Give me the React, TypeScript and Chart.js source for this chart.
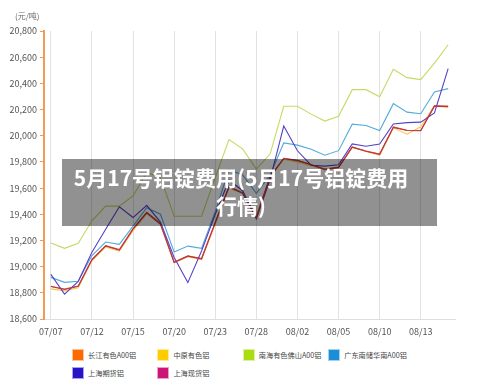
import React, { useEffect, useRef } from "react";
import { Chart, registerables } from "chart.js";

Chart.register(...registerables);

// Trading dates (every third one is labelled on the axis)
const dates = [
  "07/07", "07/08", "07/11", "07/12", "07/13", "07/14", "07/15", "07/18", "07/19", "07/20",
  "07/21", "07/22", "07/23", "07/25", "07/27", "07/28", "07/29", "08/01", "08/02", "08/03",
  "08/04", "08/05", "08/08", "08/09", "08/10", "08/11", "08/12", "08/13", "08/15", "08/16",
];

const seriesNames = [
  "长江有色A00铝",
  "中原有色铝",
  "南海有色佛山A00铝",
  "广东南储华南A00铝",
  "上海期货铝",
  "上海现货铝",
];

// Prices in 元/吨
const changjiang = [
  18850, 18829, 18852, 19056, 19160, 19130, 19290, 19415, 19330, 19035,
  19082, 19062, 19340, 19612, 19565, 19385, 19690, 19826, 19810, 19780,
  19745, 19760, 19915, 19884, 19860, 20067, 20042, 20040, 20228, 20225,
];
const zhongyuan = [
  18830, 18815, 18838, 19045, 19150, 19118, 19275, 19405, 19322, 19030,
  19075, 19052, 19325, 19600, 19560, 19390, 19680, 19820, 19800, 19770,
  19740, 19755, 19910, 19880, 19850, 20060, 20012, 20068, 20230, 20215,
];
const nanhai = [
  19180, 19140, 19178, 19350, 19462, 19462, 19540, 19720, 19680, 19385,
  19385, 19385, 19680, 19970, 19900, 19745, 19860, 20225, 20225, 20165,
  20112, 20149, 20352, 20352, 20298, 20507, 20444, 20429, 20555, 20695,
];
const guangdong = [
  18918, 18880, 18888, 19085, 19188, 19170, 19310, 19450, 19400, 19112,
  19157, 19140, 19420, 19740, 19700, 19560, 19700, 19945, 19928, 19896,
  19851, 19886, 20088, 20078, 20040, 20245, 20180, 20168, 20334, 20360,
];
const shfeFutures = [
  18941, 18790, 18888, 19110, 19285, 19457, 19375, 19468, 19340, 19070,
  18878, 19120, 19400, 19660, 19580, 19369, 19665, 20074, 19885, 19775,
  19768, 19778, 19938, 19920, 19936, 20090, 20100, 20104, 20174, 20512,
];
const shSpot = [
  18848, 18825, 18850, 19052, 19158, 19126, 19286, 19412, 19326, 19032,
  19080, 19060, 19335, 19608, 19560, 19365, 19685, 19828, 19812, 19778,
  19742, 19758, 19912, 19882, 19858, 20064, 20040, 20038, 20226, 20224,
];

const yTicksMin = 18600;
const yTicksMax = 20800;
const yStep = 200;

const lineColors = ["#e9582c", "#f6c84a", "#c4da62", "#52abdf", "#5542c6", "#b73452"];
const legendColors = ["#ff6a00", "#ffcc00", "#aadd11", "#1a8fd6", "#2a12c8", "#cc1577"];
// drawing order: lower value is drawn on top
const drawOrder = [2, 3, 5, 4, 1, 0];

const FONT = '"Noto Sans CJK SC", "Noto Sans", sans-serif';

export default function App() {
  const canvasRef = useRef<HTMLCanvasElement | null>(null);

  useEffect(() => {
    const canvas = canvasRef.current;
    if (!canvas) return;
    const values = [changjiang, zhongyuan, nanhai, guangdong, shfeFutures, shSpot];
    const chart = new Chart(canvas, {
      type: "line",
      data: {
        labels: dates,
        datasets: values.map((data, i) => ({
          label: seriesNames[i],
          data,
          order: drawOrder[i],
          borderColor: lineColors[i],
          backgroundColor: lineColors[i],
          borderWidth: 1.1,
          pointRadius: 0,
          tension: 0,
          fill: false,
        })),
      },
      options: {
        animation: false,
        responsive: false,
        devicePixelRatio: 1,
        layout: { padding: { left: 0, right: 45, top: 31, bottom: 0 } },
        plugins: {
          legend: { display: false },
          tooltip: { enabled: false },
        },
        scales: {
          x: {
            type: "category",
            offset: true,
            afterFit: (scale: any) => {
              scale.height = 26;
            },
            grid: {
              offset: false,
              drawTicks: false,
              color: (ctx: any) => (ctx.index % 3 === 0 ? "#e2e2e2" : "rgba(0,0,0,0)"),
              lineWidth: 1,
            } as any,
            border: { color: "#dedede", width: 1 },
            ticks: {
              autoSkip: false,
              maxRotation: 0,
              padding: 7,
              color: "#555",
              font: { family: FONT, size: 9 },
              callback: (_v: any, i: number) => (i % 3 === 0 ? dates[i] : ""),
            },
          },
          y: {
            min: yTicksMin,
            max: yTicksMax,
            afterFit: (scale: any) => {
              scale.width = 44;
            },
            grid: {
              drawOnChartArea: false,
              color: "#f29a52",
              tickLength: 4,
              lineWidth: 1,
            },
            border: { color: "#f29a52", width: 2 },
            ticks: {
              stepSize: yStep,
              padding: 3,
              color: "#555",
              font: { family: FONT, size: 9 },
              callback: (v: any) => Number(v).toLocaleString("en-US"),
            },
          },
        },
      },
    });
    // dotted vertical grid lines
    const xs: any = chart.options.scales!.x;
    xs.grid.borderDash = [2, 2];
    chart.update();
    return () => chart.destroy();
  }, []);

  const legendRows = [
    [0, 1, 2, 3],
    [4, 5],
  ];

  return (
    <div
      style={{
        position: "fixed",
        left: 0,
        top: 0,
        width: 500,
        height: 385,
        background: "#fff",
        fontFamily: FONT,
        overflow: "hidden",
      }}
    >
      <canvas ref={canvasRef} width={500} height={345} style={{ position: "absolute", left: 0, top: 0 }} />
      <div
        style={{
          position: "absolute",
          left: 15,
          top: 10,
          fontSize: 8,
          lineHeight: "11px",
          color: "#666",
        }}
      >
        (元/吨)
      </div>
      {legendRows.map((row, r) =>
        row.map((idx, c) => (
          <div
            key={idx}
            style={{
              position: "absolute",
              left: 72 + c * 85.4,
              top: 349 + r * 18.3,
              height: 12,
              display: "flex",
              alignItems: "center",
              fontSize: 7.2,
              color: "#444",
              whiteSpace: "nowrap",
            }}
          >
            <span
              style={{
                display: "inline-block",
                width: 10,
                height: 10,
                background: legendColors[idx],
                border: "0.5px solid rgba(255,255,255,0.6)",
                marginRight: 4,
              }}
            />
            {seriesNames[idx]}
          </div>
        ))
      )}
      <div
        style={{
          position: "absolute",
          left: 62,
          top: 159,
          width: 375,
          height: 67,
          background: "rgba(0,0,0,0.43)",
          color: "#fff",
          fontWeight: 700,
          fontSize: 21,
          lineHeight: "28px",
          textAlign: "center",
        }}
      >
        <div style={{ position: "absolute", left: 0, width: 358, top: 4, whiteSpace: "nowrap" }}>
          5月17号铝锭费用(5月17号铝锭费用
          <br />
          行情)
        </div>
      </div>
    </div>
  );
}
